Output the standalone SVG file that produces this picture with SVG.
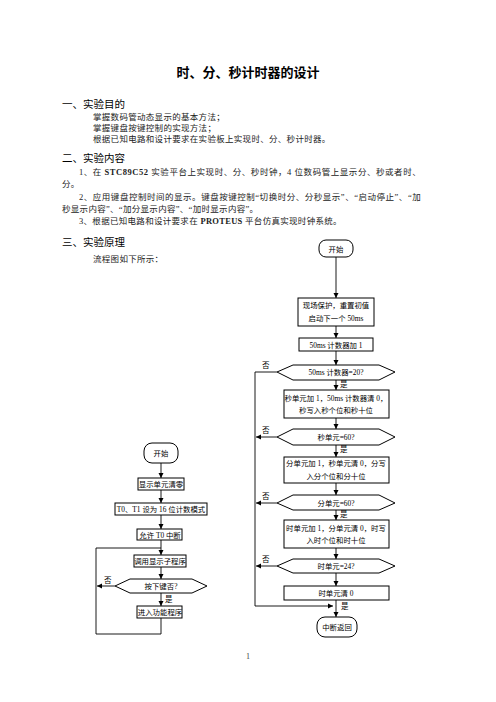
<svg xmlns="http://www.w3.org/2000/svg" width="496" height="702" viewBox="0 0 496 702">
<defs>
<marker id="ah" markerWidth="6" markerHeight="6" refX="5" refY="3" orient="auto" markerUnits="userSpaceOnUse">
<path d="M0,0.5 L5,3 L0,5.5 Z" fill="#000"/>
</marker>
<style>
.title{font-family:"Liberation Sans","Noto Sans CJK SC",sans-serif;font-size:13px;font-weight:bold;fill:#000;}
.h{font-family:"Liberation Sans","Noto Sans CJK SC",sans-serif;font-size:10.5px;fill:#000;}
.b{font-family:"Liberation Serif","Noto Sans CJK SC",serif;font-size:8.5px;fill:#222;letter-spacing:0.3px;}
.f{font-family:"Liberation Serif","Noto Sans CJK SC",serif;font-size:7.4px;fill:#000;text-anchor:middle;}
.lab{font-family:"Liberation Serif","Noto Sans CJK SC",serif;font-size:7.5px;fill:#000;}
.box{fill:#fff;stroke:#000;stroke-width:1;}
.ln{fill:none;stroke:#000;stroke-width:0.9;}
</style>
</defs>
<rect width="496" height="702" fill="#fff"/>

<text class="title" x="248" y="77" text-anchor="middle">时、分、秒计时器的设计</text>

<text class="h" x="62" y="108">一、实验目的</text>
<text class="b" x="93" y="120">掌握数码管动态显示的基本方法；</text>
<text class="b" x="93" y="131">掌握键盘按键控制的实现方法；</text>
<text class="b" x="93" y="142">根据已知电路和设计要求在实验板上实现时、分、秒计时器。</text>

<text class="h" x="62" y="162">二、实验内容</text>
<text class="b" x="79" y="175" textLength="342" lengthAdjust="spacing">1、在 <tspan font-weight="bold">STC89C52</tspan> 实验平台上实现时、分、秒时钟，4 位数码管上显示分、秒或者时、</text>
<text class="b" x="62" y="187">分。</text>
<text class="b" x="79" y="200" textLength="342" lengthAdjust="spacing">2、应用键盘控制时间的显示。键盘按键控制“切换时分、分秒显示”、“启动停止”、“加</text>
<text class="b" x="62" y="212">秒显示内容”、“加分显示内容”、“加时显示内容”。</text>
<text class="b" x="79" y="224">3、根据已知电路和设计要求在 <tspan font-weight="bold">PROTEUS</tspan> 平台仿真实现时钟系统。</text>

<text class="h" x="62" y="246">三、实验原理</text>
<text class="b" x="93" y="262" font-size="9">流程图如下所示：</text>

<g id="connectors">
<line class="ln" x1="336" y1="257" x2="336" y2="298" marker-end="url(#ah)"/>
<line class="ln" x1="336" y1="326" x2="336" y2="338" marker-end="url(#ah)"/>
<line class="ln" x1="336" y1="351" x2="336" y2="365" marker-end="url(#ah)"/>
<line class="ln" x1="336" y1="380" x2="336" y2="390" marker-end="url(#ah)"/>
<line class="ln" x1="336" y1="418" x2="336" y2="429" marker-end="url(#ah)"/>
<line class="ln" x1="336" y1="445" x2="336" y2="457" marker-end="url(#ah)"/>
<line class="ln" x1="336" y1="483" x2="336" y2="495" marker-end="url(#ah)"/>
<line class="ln" x1="336" y1="510" x2="336" y2="520" marker-end="url(#ah)"/>
<line class="ln" x1="336" y1="548" x2="336" y2="559" marker-end="url(#ah)"/>
<line class="ln" x1="336" y1="573" x2="336" y2="586" marker-end="url(#ah)"/>
<line class="ln" x1="336" y1="600" x2="336" y2="617" marker-end="url(#ah)"/>
<polyline class="ln" points="277,372 255,372 255,606 333,606" marker-end="url(#ah)"/>
<line class="ln" x1="277" y1="437" x2="256" y2="437" marker-end="url(#ah)"/>
<line class="ln" x1="277" y1="503" x2="256" y2="503" marker-end="url(#ah)"/>
<line class="ln" x1="277" y1="566" x2="256" y2="566" marker-end="url(#ah)"/>

<line class="ln" x1="161" y1="463" x2="161" y2="478" marker-end="url(#ah)"/>
<line class="ln" x1="161" y1="490" x2="161" y2="503" marker-end="url(#ah)"/>
<line class="ln" x1="161" y1="515" x2="161" y2="529" marker-end="url(#ah)"/>
<line class="ln" x1="161" y1="540" x2="161" y2="555" marker-end="url(#ah)"/>
<line class="ln" x1="161" y1="567" x2="161" y2="579" marker-end="url(#ah)"/>
<line class="ln" x1="161" y1="593" x2="161" y2="606" marker-end="url(#ah)"/>
<line class="ln" x1="115" y1="586" x2="97" y2="586" marker-end="url(#ah)"/>
<polyline class="ln" points="161,618 161,634 96,634 96,548 161,548"/>

<text class="lab" x="262" y="368">否</text>
<text class="lab" x="262" y="433">否</text>
<text class="lab" x="262" y="499">否</text>
<text class="lab" x="262" y="562">否</text>
<text class="lab" x="340" y="387">是</text>
<text class="lab" x="340" y="452">是</text>
<text class="lab" x="340" y="517">是</text>
<text class="lab" x="341" y="609">是</text>
<text class="lab" x="104" y="583">否</text>
<text class="lab" x="165" y="602">是</text>
</g>

<g id="r-start"><rect class="box" x="319" y="240" width="34" height="17" rx="7"/><text class="f" x="336" y="251.5">开始</text></g>
<g id="r-init"><rect class="box" x="298" y="298" width="76" height="28"/><text class="f" x="336" y="308">现场保护，重置初值</text><text class="f" x="336" y="321">启动下一个 50ms</text></g>
<g id="r-inc"><rect class="box" x="299" y="338" width="74" height="13"/><text class="f" x="336" y="347.5">50ms 计数器加 1</text></g>
<g id="r-d1"><polygon class="box" points="277,372 293,365 379,365 395,372 379,380 293,380"/><text class="f" x="336" y="375">50ms 计数器=20?</text></g>
<g id="r-sec"><rect class="box" x="284" y="390" width="105" height="28"/><text class="f" x="336" y="400.5">秒单元加 1，50ms 计数器清 0，</text><text class="f" x="336" y="413">秒写入秒个位和秒十位</text></g>
<g id="r-d2"><polygon class="box" points="277,437 293,429 379,429 395,437 379,445 293,445"/><text class="f" x="336" y="440">秒单元=60?</text></g>
<g id="r-min"><rect class="box" x="284" y="457" width="105" height="26"/><text class="f" x="336" y="466">分单元加 1，秒单元清 0，分写</text><text class="f" x="336" y="478.5">入分个位和分十位</text></g>
<g id="r-d3"><polygon class="box" points="277,503 293,495 379,495 395,503 379,510 293,510"/><text class="f" x="336" y="505.5">分单元=60?</text></g>
<g id="r-hr"><rect class="box" x="284" y="520" width="105" height="28"/><text class="f" x="336" y="530.5">时单元加 1，分单元清 0，时写</text><text class="f" x="336" y="543">入时个位和时十位</text></g>
<g id="r-d4"><polygon class="box" points="277,566 293,559 379,559 395,566 379,573 293,573"/><text class="f" x="336" y="568.5">时单元=24?</text></g>
<g id="r-clr"><rect class="box" x="284" y="586" width="105" height="14"/><text class="f" x="336" y="595.5">时单元清 0</text></g>
<g id="r-end"><rect class="box" x="317" y="617" width="40" height="20" rx="8"/><text class="f" x="337" y="630">中断返回</text></g>

<g id="l-start"><rect class="box" x="144" y="443" width="34" height="20" rx="8"/><text class="f" x="161" y="456">开始</text></g>
<g id="l-clr"><rect class="box" x="138" y="478" width="46" height="12"/><text class="f" x="161" y="487">显示单元清零</text></g>
<g id="l-mode"><rect class="box" x="115" y="503" width="92" height="12"/><text class="f" x="161" y="512">T0、T1 设为 16 位计数模式</text></g>
<g id="l-int"><rect class="box" x="137" y="529" width="45" height="11"/><text class="f" x="160" y="537.5">允许 T0 中断</text></g>
<g id="l-disp"><rect class="box" x="134" y="555" width="52" height="12"/><text class="f" x="160" y="564">调用显示子程序</text></g>
<g id="l-key"><polygon class="box" points="115,586 130,579 192,579 207,586 192,593 130,593"/><text class="f" x="161" y="589">按下键否?</text></g>
<g id="l-func"><rect class="box" x="137" y="606" width="45" height="12"/><text class="f" x="160" y="615">进入功能程序</text></g>

<text x="248" y="659" font-family="Liberation Serif" font-size="8" fill="#444" text-anchor="middle">1</text>
</svg>
